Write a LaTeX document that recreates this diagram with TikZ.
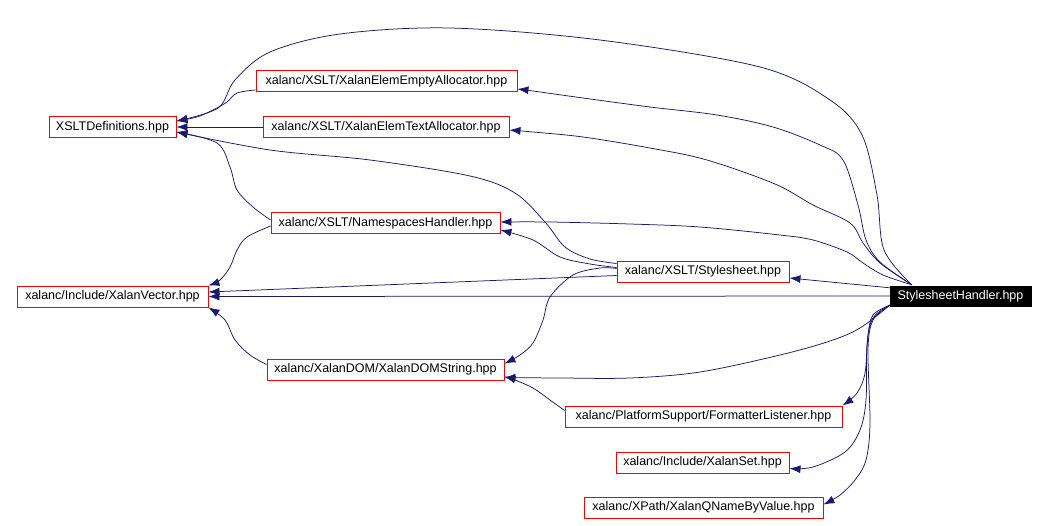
\documentclass[tikz,border=0pt]{standalone}
\usepackage{fontspec}
\setmainfont{Liberation Sans}
\usetikzlibrary{arrows.meta,calc}
\definecolor{edgec}{RGB}{25,25,112}
\begin{document}
\begin{tikzpicture}[x=1pt,y=-1pt,
 box/.style={draw=red,line width=0.9pt,fill=white,inner sep=0pt,minimum height=21pt,font=\fontsize{12.5}{15}\selectfont},
 hbox/.style={draw=black,fill=black,text=white,inner sep=0pt,minimum height=20pt,font=\fontsize{12.5}{15}\selectfont},
 edge/.style={draw=edgec,line width=0.75pt,-{Latex[length=11pt,width=8pt]}},
 sm/.style={smooth,tension=0.55}]
\useasboundingbox (0,0) rectangle (1047,525);
\node[box,minimum width=127pt] (xd) at (112.5,127) {XSLTDefinitions.hpp};
\node[box,minimum width=261pt] (empty) at (386.5,81) {xalanc/XSLT/XalanElemEmptyAllocator.hpp};
\node[box,minimum width=246pt] (text) at (386,127) {xalanc/XSLT/XalanElemTextAllocator.hpp};
\node[box,minimum width=229pt] (ns) at (385.5,223) {xalanc/XSLT/NamespacesHandler.hpp};
\node[box,minimum width=191pt] (vec) at (112.5,296.5) {xalanc/Include/XalanVector.hpp};
\node[box,minimum width=237pt] (dom) at (385.5,369.5) {xalanc/XalanDOM/XalanDOMString.hpp};
\node[box,minimum width=172pt] (ss) at (703,271.5) {xalanc/XSLT/Stylesheet.hpp};
\node[hbox,minimum width=141pt] (h) at (960.5,296) {StylesheetHandler.hpp};
\node[box,minimum width=277pt] (fl) at (703.5,416.5) {xalanc/PlatformSupport/FormatterListener.hpp};
\node[box,minimum width=173pt] (set) at (702.5,462.5) {xalanc/Include/XalanSet.hpp};
\node[box,minimum width=239pt] (qn) at (703.5,507.5) {xalanc/XPath/XalanQNameByValue.hpp};
\coordinate (hT) at ($(h.north west)+(22,-1)$);
\coordinate (hB) at ($(h.south west)+(0,-1)$);
% from StylesheetHandler
\draw[edge] plot[sm] coordinates {(hT) (884,250) (877,195) (862,135) (830,100) (760,67) (600,40) (450,28) (340,34) (270,52) (235,80) (218,108) ($(xd.east)+(0,-6)$)};
\draw[edge] plot[sm] coordinates {(hT) (880,262) (866,240) (858,205) (843,160) (820,145) (773,127) (717,115) (650,107) (583,98) (533,91) ($(empty.east)+(0,8)$)};
\draw[edge] plot[sm] coordinates {(hT) (880,263) (863,243) (850,223) (813,205) (775,184) (707,160) (650,148) (583,137) (533,132) ($(text.east)+(0,3)$)};
\draw[edge] plot[sm] coordinates {(hT) (883,275) (863,263) (847,252) (813,240) (780,235) (700,227) (630,224) (550,222) ($(ns.east)+(0,-1)$)};
\draw[edge] ($(h.north west)+(0,2)$) -- ($(ss.east)+(0,6.5)$);
\draw[edge] (h.west) -- (vec.east);
\draw[edge] plot[sm] coordinates {(hB) (860,328) (830,341) (780,355) (700,372) (630,378) (560,378) ($(dom.east)+(0,8)$)};
\draw[edge] plot[sm] coordinates {(hB) (873,315) (868,335) (865,373) (857,393) (fl.north east)};
\draw[edge] plot[sm] coordinates {(hB) (873,318) (867,345) (866,400) (860,430) (845,452) (813,467) ($(set.east)+(0,6)$)};
\draw[edge] plot[sm] coordinates {(hB) (873,320) (868,350) (870,423) (866,460) (855,480) (840,495) ($(qn.east)+(0,-3)$)};
% from Stylesheet
\draw[edge] plot[sm] coordinates {($(ss.west)+(0,-8)$) (590,259) (565,247) (545,222) (515,193) (470,176) (370,160) (270,150) ($(xd.east)+(0,5)$)};
\draw[edge] plot[sm] coordinates {($(ss.west)+(0,-4)$) (590,264) (560,257) (533,240) ($(ns.east)+(0,7)$)};
\draw[edge] ($(ss.west)+(0,4)$) -- ($(vec.east)+(0,-4.5)$);
\draw[edge] plot[sm] coordinates {($(ss.west)+(0,-3)$) (600,268) (573,275) (550,297) (543,320) (533,343) (520,355) ($(dom.east)+(0,-6)$)};
% others
\draw[edge] plot[sm] coordinates {($(empty.west)+(0,9)$) (237,93) (227,102) (213,110) (197,117) ($(xd.east)+(0,-6)$)};
\draw[edge] (text.west) -- (xd.east);
\draw[edge] plot[sm] coordinates {($(ns.west)+(0,-3)$) (253,207) (237,190) (230,167) (217,143) ($(xd.east)+(0,5)$)};
\draw[edge] plot[sm] coordinates {($(ns.west)+(0,3)$) (247,237) (237,250) (230,267) (220,280) (vec.north east)};
\draw[edge] plot[sm] coordinates {($(dom.west)+(0,-5)$) (250,355) (235,340) (225,320) (vec.south east)};
\draw[edge] plot[sm] coordinates {($(fl.west)+(0,-6)$) (550,400) (533,388) (515,380) ($(dom.east)+(0,7)$)};
\end{tikzpicture}
\end{document}
